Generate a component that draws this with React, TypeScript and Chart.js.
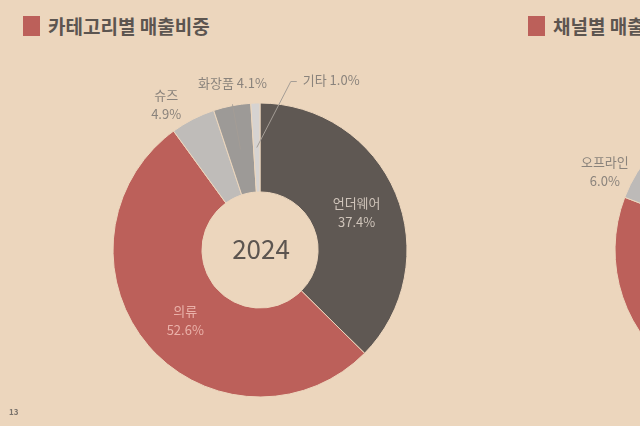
import React, { useEffect, useRef } from 'react';
import { Chart, registerables } from 'chart.js';

Chart.register(...registerables);

// 카테고리별 매출비중 (2024)
const categoryLabels = ['언더웨어', '의류', '슈즈', '화장품', '기타'];
const categoryShares = [37.4, 52.6, 4.9, 4.1, 1.0];

// 채널별 매출비중 (cropped at the right edge of the slide)
const channelLabels = ['온라인', '오프라인'];
const channelShares = [94.0, 6.0];

const BG = '#ecd6bd';
const INK = '#5c5550';
const RED = '#bc605a';
const LABEL_GRAY = '#8a837c';
const FONT = '"Noto Sans CJK KR", "Noto Sans", sans-serif';

const categoryColors = ['#5f5853', RED, '#bfbcb9', '#9d9a97', '#d6d3d1'];
const channelColors = [RED, '#bdbab8'];

// label layout, offsets from the slice's centroid
type LabelSpec = {
  dx: number;
  dy: number;
  twoLines: boolean;
  color: string;
  align: CanvasTextAlign;
  line?: [number, number][];
};

const categoryLabelLayout: Record<string, LabelSpec> = {
  언더웨어: { dx: 2, dy: 2, twoLines: true, color: '#cfc4ba', align: 'center' },
  의류: { dx: 3, dy: 4, twoLines: true, color: '#eab1a9', align: 'center' },
  슈즈: { dx: -47, dy: -54, twoLines: true, color: LABEL_GRAY, align: 'center' },
  화장품: { dx: -8, dy: -66, twoLines: false, color: LABEL_GRAY, align: 'center', line: [[0, 0], [-8, -45]] },
  기타: { dx: 46, dy: -67, twoLines: false, color: LABEL_GRAY, align: 'left', line: [[0, 0], [34, -66], [40, -66]] },
};

const channelLabelLayout: Record<string, LabelSpec> = {
  오프라인: { dx: -70, dy: -24, twoLines: true, color: LABEL_GRAY, align: 'center' },
};

const sliceLabelPlugin = {
  id: 'sliceLabels',
  afterDatasetsDraw(chart: any, _args: any, opts: any) {
    const layout: Record<string, LabelSpec> = opts.layout || {};
    const ctx: CanvasRenderingContext2D = chart.ctx;
    const meta = chart.getDatasetMeta(0);
    const labels: string[] = chart.data.labels;
    const values: number[] = chart.data.datasets[0].data;
    ctx.save();
    ctx.font = `13px ${FONT}`;
    ctx.textBaseline = 'middle';
    meta.data.forEach((arc: any, i: number) => {
      const spec = layout[labels[i]];
      if (!spec) return;
      const p = arc.getProps(['x', 'y', 'startAngle', 'endAngle', 'innerRadius', 'outerRadius'], true);
      const mid = (p.startAngle + p.endAngle) / 2;
      const r = (p.innerRadius + p.outerRadius) / 2;
      const cx = p.x + Math.cos(mid) * r;
      const cy = p.y + Math.sin(mid) * r;
      if (spec.line) {
        ctx.strokeStyle = '#a49d96';
        ctx.lineWidth = 1;
        ctx.beginPath();
        spec.line.forEach(([lx, ly], k) => {
          if (k === 0) ctx.moveTo(cx + lx, cy + ly);
          else ctx.lineTo(cx + lx, cy + ly);
        });
        ctx.stroke();
      }
      const pct = `${values[i].toFixed(1)}%`;
      ctx.fillStyle = spec.color;
      ctx.textAlign = spec.align;
      const x = cx + spec.dx;
      const y = cy + spec.dy;
      if (spec.twoLines) {
        ctx.fillText(labels[i], x, y - 9.5);
        ctx.fillText(pct, x, y + 9.5);
      } else {
        ctx.fillText(`${labels[i]} ${pct}`, x, y);
      }
    });
    ctx.restore();
  },
};

const centerTextPlugin = {
  id: 'centerText',
  afterDatasetsDraw(chart: any, _args: any, opts: any) {
    if (!opts.text) return;
    const arc = chart.getDatasetMeta(0).data[0];
    if (!arc) return;
    const ctx: CanvasRenderingContext2D = chart.ctx;
    ctx.save();
    ctx.font = `26px ${FONT}`;
    ctx.fillStyle = INK;
    ctx.textAlign = 'center';
    ctx.textBaseline = 'middle';
    ctx.fillText(opts.text, arc.x + 1, arc.y - 1);
    ctx.restore();
  },
};

type DonutProps = {
  labels: string[];
  values: number[];
  colors: string[];
  rotation: number;
  centerText?: string;
  labelLayout: Record<string, LabelSpec>;
};

const Donut: React.FC<DonutProps> = ({ labels, values, colors, rotation, centerText, labelLayout }) => {
  const canvasRef = useRef<HTMLCanvasElement | null>(null);

  useEffect(() => {
    const canvas = canvasRef.current;
    if (!canvas) return;
    const chart = new Chart(canvas, {
      type: 'doughnut',
      data: {
        labels,
        datasets: [
          {
            data: values,
            backgroundColor: colors,
            borderColor: BG,
            borderWidth: 1,
          },
        ],
      },
      options: {
        responsive: true,
        maintainAspectRatio: false,
        animation: false,
        radius: 147,
        cutout: '39.5%',
        rotation,
        layout: { padding: { top: 103, bottom: 29, left: 0, right: 0 } },
        plugins: {
          legend: { display: false },
          tooltip: { enabled: false },
          sliceLabels: { layout: labelLayout },
          centerText: { text: centerText },
        } as any,
      },
      plugins: [sliceLabelPlugin, centerTextPlugin],
    });
    return () => chart.destroy();
  }, [labels, values, colors, rotation, centerText, labelLayout]);

  return <canvas ref={canvasRef} />;
};

const Title: React.FC<{ text: string; left: number }> = ({ text, left }) => (
  <div style={{ position: 'absolute', left, top: 14, display: 'flex', alignItems: 'center', whiteSpace: 'nowrap' }}>
    <div style={{ width: 17, height: 20, background: RED, marginRight: 8 }} />
    <div style={{ fontFamily: FONT, fontWeight: 700, fontSize: 19, color: INK, lineHeight: '22px', marginTop: 1 }}>{text}</div>
  </div>
);

export default function App() {
  return (
    <div style={{ position: 'fixed', left: 0, top: 0, width: 640, height: 426, overflow: 'hidden', background: BG }}>
      <Title text="카테고리별 매출비중" left={23} />
      <Title text="채널별 매출비중" left={528} />
      <div style={{ position: 'absolute', left: 0, top: 0, width: 520, height: 426 }}>
        <Donut
          labels={categoryLabels}
          values={categoryShares}
          colors={categoryColors}
          rotation={0}
          centerText="2024"
          labelLayout={categoryLabelLayout}
        />
      </div>
      <div style={{ position: 'absolute', left: 502, top: 0, width: 520, height: 426 }}>
        <Donut
          labels={channelLabels}
          values={channelShares}
          colors={channelColors}
          rotation={-47.4}
          labelLayout={channelLabelLayout}
        />
      </div>
      <div style={{ position: 'absolute', left: 9, top: 406, fontFamily: FONT, fontSize: 8, fontWeight: 700, color: '#7a736c' }}>
        13
      </div>
    </div>
  );
}
